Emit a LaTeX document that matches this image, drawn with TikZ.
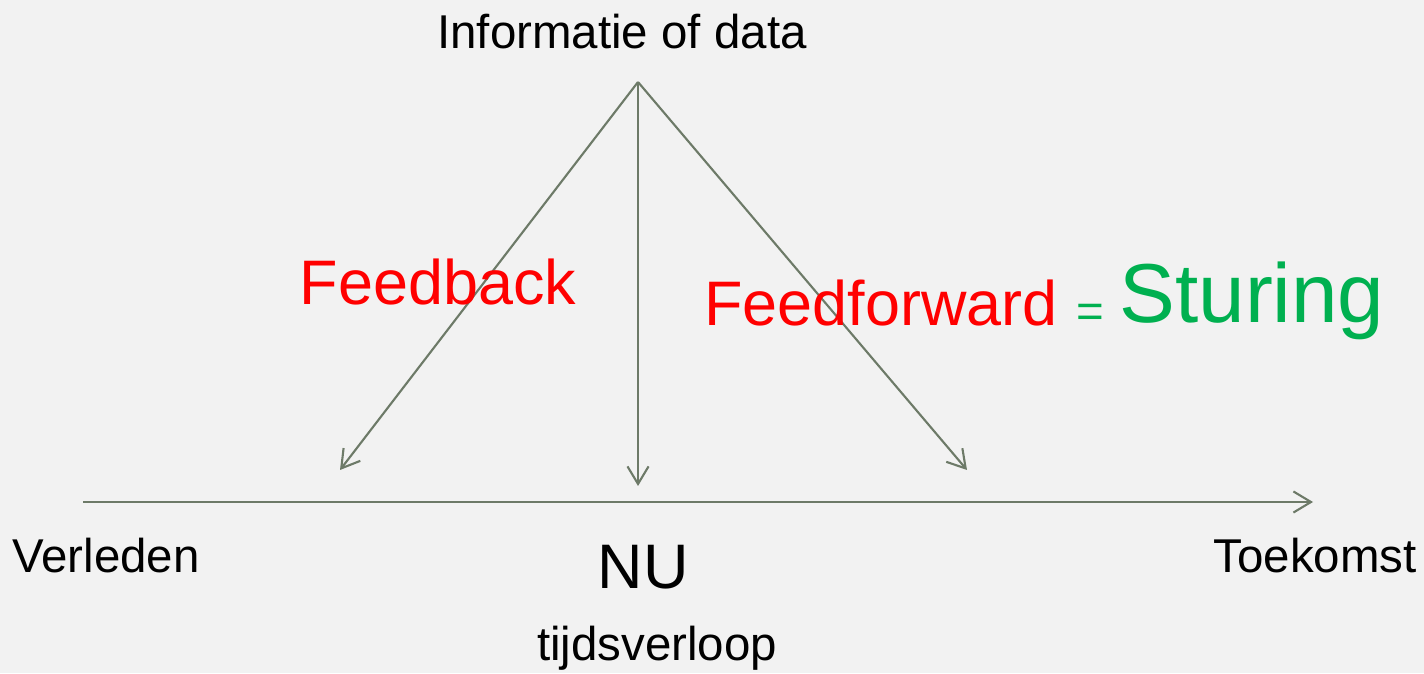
\documentclass[tikz,border=0pt]{standalone}
\usepackage{fontspec}
\setmainfont{Liberation Sans}
\usetikzlibrary{arrows.meta,positioning}
\definecolor{axisgray}{RGB}{109,122,104}
\definecolor{bggray}{RGB}{242,242,242}
\definecolor{sturgreen}{RGB}{0,176,80}
\tikzset{
    flow/.style={draw=axisgray, line width=0.6pt, -{Straight Barb[length=5pt,width=6pt]}},
    txt/.style={inner sep=0pt, anchor=base},
    small/.style={txt, font=\fontsize{13.5}{16}\selectfont},
    medium/.style={txt, font=\fontsize{17.9}{21}\selectfont},
    big/.style={txt, font=\fontsize{23.8}{28}\selectfont}
}

\begin{document}
\begin{tikzpicture}
    \fill [bggray] (0,0) rectangle (14.24,6.73);
    \useasboundingbox (0,0) rectangle (14.24,6.73);
    \coordinate (top) at (6.38,5.91);
    \coordinate (past) at (3.40,2.03);
    \coordinate (now) at (6.38,1.87);
    \coordinate (future) at (9.67,2.03);
    \coordinate (tstart) at (0.83,1.71);
    \coordinate (tend) at (13.13,1.71);
    \draw [flow] (top) -- (past);
    \draw [flow] (top) -- (now);
    \draw [flow] (top) -- (future);
    \draw [flow] (tstart) -- (tend);
    \node [small] (info) at (6.22,6.24) {Informatie of data};
    \node [medium, text=red] (fb) at (4.38,3.68) {Feedback};
    \node [medium, text=red] (ff) at (8.81,3.47) {Feedforward};
    \node [small, text=sturgreen] (eq) at (10.90,3.45) {=};
    \node [big, text=sturgreen] (sturing) at (12.52,3.50) {Sturing};
    \node [small] (verleden) at (1.06,1.00) {Verleden};
    \node [medium] (nu) at (6.43,0.84) {NU};
    \node [small] (verloop) at (6.57,0.13) {tijdsverloop};
    \node [small] (toekomst) at (13.15,1.00) {Toekomst};
\end{tikzpicture}
\end{document}
